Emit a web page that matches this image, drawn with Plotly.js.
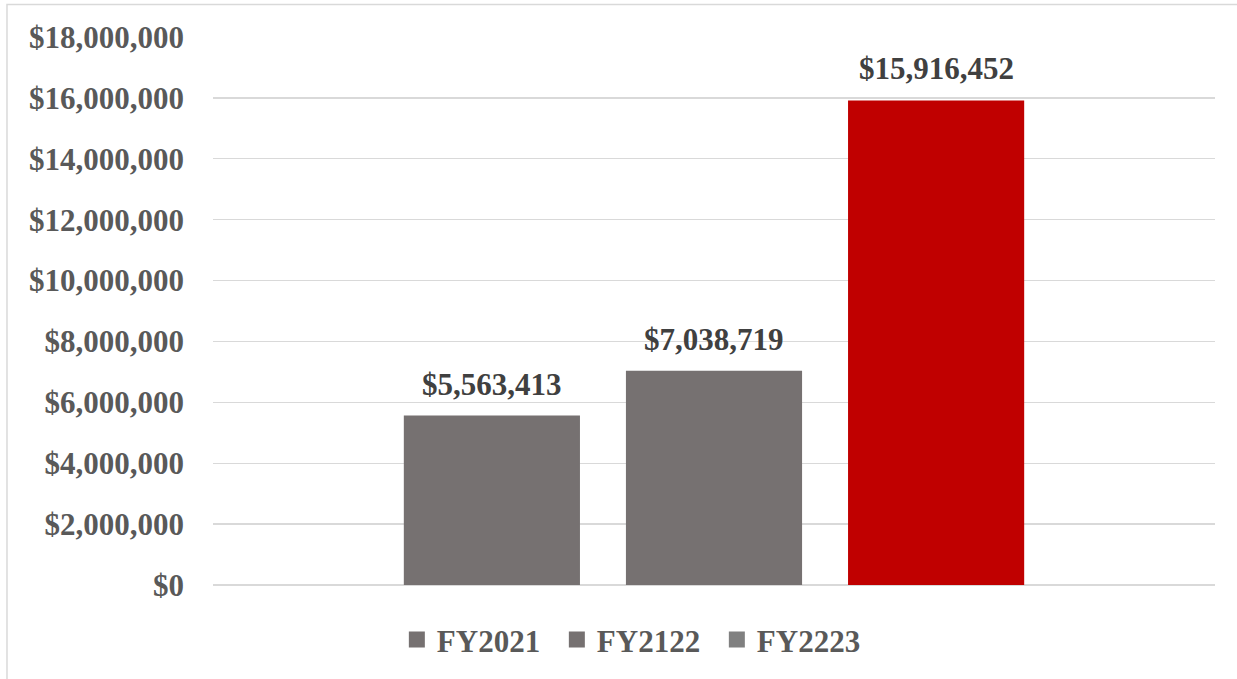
<!DOCTYPE html>
<html><head><meta charset="utf-8">
<script src="https://cdn.plot.ly/plotly-3.0.1.min.js"></script>
<style>html,body{margin:0;padding:0;background:#fff}#chart{width:1237px;height:679px}</style>
</head><body><div id="chart"></div>
<script>
const seriesNames = ['FY2021', 'FY2122', 'FY2223'];
const seriesValues = [5563413, 7038719, 15916452];
const barColors = ['#767171', '#767171', '#C00000'];
const legendColors = ['#767171', '#767171', '#808080'];
const category = [''];
const yTickVals = [0, 2000000, 4000000, 6000000, 8000000, 10000000, 12000000, 14000000, 16000000, 18000000];

const fontFam = '"Liberation Serif", "Times New Roman", serif';
const fmt = v => '$' + v.toLocaleString('en-US');
const bargap = 0.335;
const slot = (1 - bargap) / seriesNames.length;

const traces = [];
seriesNames.forEach((n, i) => {
  traces.push({
    type: 'bar', name: n, x: category, y: [seriesValues[i]],
    marker: {color: barColors[i]},
    showlegend: false, hoverinfo: 'skip'
  });
});
seriesNames.forEach((n, i) => {
  traces.push({
    type: 'scatter', mode: 'markers', name: n, x: [null], y: [null],
    xaxis: 'x2', yaxis: 'y2',
    marker: {symbol: 'square', size: 16, color: legendColors[i]},
    showlegend: true
  });
});

const annotations = seriesValues.map((v, i) => ({
  xref: 'x', yref: 'y', x: (i - (seriesNames.length - 1) / 2) * slot, y: v,
  text: fmt(v), showarrow: false, yanchor: 'bottom', xanchor: 'center', yshift: 12,
  font: {family: fontFam, size: 31, color: '#404040', weight: 700}
}));

const layout = {
  width: 1237, height: 679,
  margin: {l: 213, r: 22, t: 37, b: 94},
  paper_bgcolor: '#fff', plot_bgcolor: '#fff',
  barmode: 'group', bargap: bargap, bargroupgap: 0.207,
  font: {family: fontFam, color: '#595959'},
  xaxis: {type: 'category', showticklabels: false, showgrid: false, zeroline: false, showline: false, fixedrange: true},
  yaxis: {
    range: [0, 18000000], tickvals: yTickVals, ticktext: yTickVals.map(fmt),
    showgrid: true, gridcolor: '#D9D9D9', gridwidth: 1.4,
    zeroline: true, zerolinecolor: '#D9D9D9', zerolinewidth: 1.4,
    showline: false, ticks: '', ticklabelstandoff: 28,
    tickfont: {family: fontFam, size: 31, color: '#595959', weight: 700}
  },
  xaxis2: {overlaying: 'x', visible: false, range: [0, 1]},
  yaxis2: {overlaying: 'y', visible: false, range: [0, 1]},
  showlegend: true,
  legend: {
    orientation: 'h', x: 0.423, xanchor: 'center', y: -0.1, yanchor: 'middle',
    font: {family: fontFam, size: 31, color: '#595959', weight: 700},
    itemwidth: 30, entrywidth: 115, entrywidthmode: 'pixels', bgcolor: 'rgba(0,0,0,0)'
  },
  annotations: annotations,
  shapes: [{
    type: 'rect', xref: 'paper', yref: 'paper',
    x0: -0.2056, x1: 1.2, y0: -0.4, y1: 1.0593,
    line: {color: '#D9D9D9', width: 1.5}, fillcolor: 'rgba(0,0,0,0)', layer: 'below'
  }]
};

Plotly.newPlot('chart', traces, layout, {displayModeBar: false, staticPlot: true});
</script></body></html>
